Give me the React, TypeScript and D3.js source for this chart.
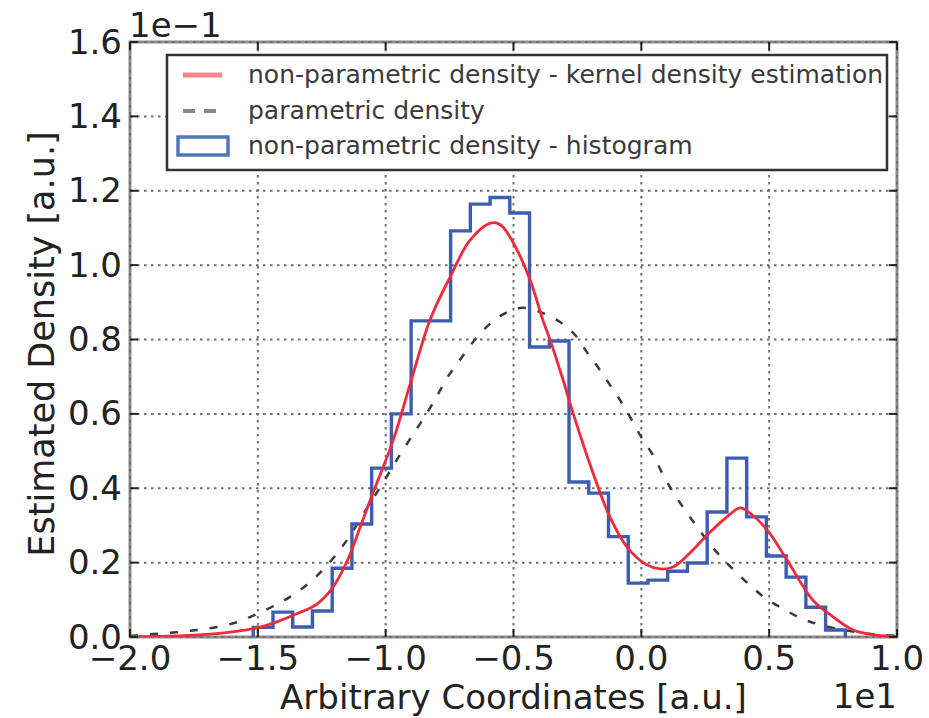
import React from "react";
import * as d3 from "d3";

// Histogram (density normalised), 30 equal bins between HIST_MIN and HIST_MAX
const HIST_MIN = -15.18;
const HIST_MAX = 7.98;
const histDensity = [
  0.0026, 0.0067, 0.0027, 0.007, 0.0185, 0.0304, 0.0454, 0.06, 0.085, 0.085,
  0.1092, 0.1164, 0.1182, 0.114, 0.078, 0.0796, 0.0417, 0.0387, 0.027, 0.0145,
  0.0153, 0.0177, 0.0199, 0.0336, 0.0481, 0.0323, 0.0218, 0.0161, 0.008, 0.0019,
];

// Kernel density estimate, sampled along x
const kdeX = [
  -20, -18.5, -17, -16, -15, -14.2, -13.5, -12.7, -12.1, -11.5, -11.0, -10.5,
  -9.7, -9.0, -8.27, -7.48, -6.7, -5.9, -5.5, -5.0, -4.35, -3.85, -3.57, -3.06,
  -2.67, -1.89, -1.23, -0.56, 0.22, 0.73, 1.24, 2.02, 2.57, 3.35, 3.86, 4.25,
  4.92, 5.7, 6.71, 7.5, 8.28, 9.2, 10,
];
const kdeY = [
  0.00005, 0.0002, 0.0007, 0.0014, 0.0025, 0.0042, 0.0062, 0.0088, 0.013,
  0.0205, 0.0295, 0.0387, 0.053, 0.069, 0.0852, 0.0968, 0.1067, 0.1113, 0.1108,
  0.1059, 0.096, 0.0852, 0.0799, 0.0691, 0.0602, 0.0441, 0.0323, 0.0242,
  0.0194, 0.0183, 0.0188, 0.0234, 0.0274, 0.0323, 0.0347, 0.0333, 0.0288,
  0.0207, 0.0099, 0.0054, 0.0019, 0.0005, 0.0001,
];

// Fitted parametric (normal) density, sampled along x
const paramX = [
  -20, -19.1, -18.16, -17.38, -16.6, -15.81, -15.03, -14.25, -13.74, -13.0,
  -12.41, -11.9, -11.4, -10.61, -10.1, -9.71, -9.32, -8.85, -8.38, -7.99, -7.6,
  -7.17, -6.62, -6.11, -5.45, -4.75, -3.96, -3.18, -2.59, -2.13, -1.7, -1.23,
  -0.76, -0.37, 0.06, 0.46, 0.85, 1.24, 1.71, 2.18, 2.69, 3.19, 3.74, 4.33,
  4.92, 5.62, 6.32, 7.11, 8.16, 9.33, 10,
];
const paramY = [
  0.0003, 0.0008, 0.0013, 0.0019, 0.0027, 0.004, 0.0062, 0.0088, 0.0108,
  0.0145, 0.0184, 0.0225, 0.0272, 0.036, 0.0415, 0.046, 0.0503, 0.0553, 0.0603,
  0.0648, 0.0697, 0.0738, 0.079, 0.083, 0.0866, 0.0885, 0.0874, 0.0847, 0.0812,
  0.0766, 0.0726, 0.0678, 0.0629, 0.0583, 0.053, 0.0489, 0.0436, 0.039, 0.0341,
  0.0296, 0.0249, 0.021, 0.0172, 0.0134, 0.0101, 0.0073, 0.0048, 0.0031,
  0.0016, 0.0006, 0.0004,
];

const xTicks = [-20, -15, -10, -5, 0, 5, 10];
const yTicks = [0, 0.02, 0.04, 0.06, 0.08, 0.1, 0.12, 0.14, 0.16];

const legendLabels = [
  "non-parametric density - kernel density estimation",
  "parametric density",
  "non-parametric density - histogram",
];

const FONT = "'DejaVu Sans', sans-serif";
const L = 130, R = 897, T = 42, B = 637;

const fmt = (v: number) => {
  const s = v.toFixed(1);
  return s.startsWith("-") ? "\u2212" + s.slice(1) : s;
};

export default function App() {
  const x = d3.scaleLinear().domain([-20, 10]).range([L, R]);
  const y = d3.scaleLinear().domain([0, 0.16]).range([B, T]);

  const binW = (HIST_MAX - HIST_MIN) / histDensity.length;
  const histPts: [number, number][] = [[HIST_MIN, 0]];
  histDensity.forEach((h, i) => {
    histPts.push([HIST_MIN + i * binW, h]);
    histPts.push([HIST_MIN + (i + 1) * binW, h]);
  });
  histPts.push([HIST_MAX, 0]);
  const histPath = d3
    .line<[number, number]>()
    .x((d) => x(d[0]))
    .y((d) => y(d[1]))(histPts)!;

  const kdePath = d3
    .line<number>()
    .curve(d3.curveCatmullRom.alpha(0.5))
    .x((_, i) => x(kdeX[i]))
    .y((_, i) => y(kdeY[i]))(kdeX)!;
  const paramPath = d3
    .line<number>()
    .curve(d3.curveCatmullRom.alpha(0.5))
    .x((_, i) => x(paramX[i]))
    .y((_, i) => y(paramY[i]))(paramX)!;

  const tickLen = 8;
  const legendRows = [75, 111, 146];

  return (
    <svg width={929} height={718} style={{ display: "block", position: "absolute", left: 0, top: 0, background: "#fff" }}>
      <defs>
        <clipPath id="plot">
          <rect x={L} y={T} width={R - L} height={B - T} />
        </clipPath>
      </defs>
      <rect width={929} height={718} fill="#fff" />

      {/* frame */}
      <rect x={L} y={T} width={R - L} height={B - T} fill="none" stroke="#8a8a8a" strokeWidth={3} />

      {/* dotted grid */}
      <g stroke="#6e6e6e" strokeWidth={2} strokeDasharray="2.5,4.5">
        {xTicks.map((t) => (
          <line key={"gx" + t} x1={x(t)} x2={x(t)} y1={T} y2={B} />
        ))}
        {yTicks.map((t) => (
          <line key={"gy" + t} x1={L} x2={R} y1={y(t)} y2={y(t)} />
        ))}
      </g>

      {/* data */}
      <g clipPath="url(#plot)" fill="none">
        <path d={paramPath} stroke="#3a3a3a" strokeWidth={2.5} strokeDasharray="8,12" />
        <path d={histPath} stroke="#3d5eae" strokeWidth={3.4} strokeLinejoin="miter" />
        <path d={kdePath} stroke="#ee2a3b" strokeWidth={2.8} />
      </g>

      {/* inward ticks on all sides */}
      <g stroke="#222" strokeWidth={2}>
        {xTicks.map((t) => (
          <g key={"tx" + t}>
            <line x1={x(t)} x2={x(t)} y1={B} y2={B - tickLen} />
            <line x1={x(t)} x2={x(t)} y1={T} y2={T + tickLen} />
          </g>
        ))}
        {yTicks.map((t) => (
          <g key={"ty" + t}>
            <line x1={L} x2={L + tickLen} y1={y(t)} y2={y(t)} />
            <line x1={R} x2={R - tickLen} y1={y(t)} y2={y(t)} />
          </g>
        ))}
      </g>

      {/* tick labels and axis titles */}
      <g fontFamily={FONT} fontSize={34} fill="#222">
        {xTicks.map((t) => (
          <text key={"lx" + t} x={x(t)} y={670} textAnchor="middle">
            {fmt(t / 10)}
          </text>
        ))}
        {yTicks.map((t) => (
          <text key={"ly" + t} x={122} y={y(t) + 11.5} textAnchor="end">
            {fmt(t * 10)}
          </text>
        ))}
        <text x={129} y={37}>1e{"\u2212"}1</text>
        <text x={R} y={708} textAnchor="end">1e1</text>
        <text x={(L + R) / 2} y={709} textAnchor="middle">Arbitrary Coordinates [a.u.]</text>
        <text transform={`translate(54,344) rotate(-90)`} textAnchor="middle" fontSize={35}>
          Estimated Density [a.u.]
        </text>
      </g>

      {/* legend */}
      <g>
        <rect x={167} y={55} width={720} height={115} fill="#fff" stroke="#333" strokeWidth={2.5} />
        <line x1={183} x2={222} y1={legendRows[0]} y2={legendRows[0]} stroke="#f4868a" strokeWidth={5} />
        <line x1={183} x2={218} y1={legendRows[1]} y2={legendRows[1]} stroke="#888" strokeWidth={4} strokeDasharray="12,9" />
        <rect x={178} y={legendRows[2] - 9} width={50} height={18} fill="#fff" stroke="#5274bb" strokeWidth={3.5} />
        <g fontFamily={FONT} fontSize={25} fill="#3a3a3a">
          {legendLabels.map((s, i) => (
            <text key={s} x={248} y={legendRows[i] + 8}>
              {s}
            </text>
          ))}
        </g>
      </g>
    </svg>
  );
}
